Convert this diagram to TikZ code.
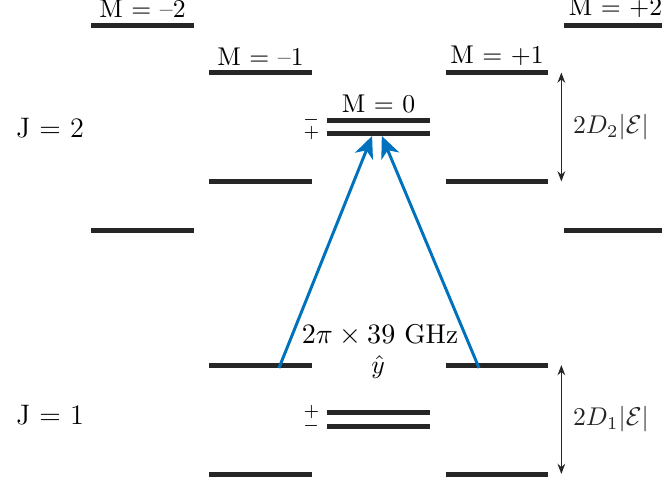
\documentclass[tikz,border=0pt]{standalone}
\usepackage{amsmath}
\usepackage{amssymb}
\usepackage{tikz}
\usetikzlibrary{positioning}
\usetikzlibrary{arrows.meta}
\definecolor{pumpblue}{RGB}{0,114,189}
\tikzset{
level_line/.style={rectangle, fill=black!85, inner sep=0, minimum width=39.8pt, minimum height=1.95pt},
m_label/.style={rectangle, inner sep=1.5pt, text=black},
parity_label/.style={rectangle, inner sep=0.3pt, font=\scriptsize},
j_label/.style={rectangle, font=\fontsize{11}{13}\selectfont},
pump_arrow/.style={-{Stealth[length=8.5pt, width=7.5pt, inset=2.5pt]}, line width=1.15pt, color=pumpblue},
split_arrow/.style={{Stealth[length=4pt, width=3pt]}-{Stealth[length=4pt, width=3pt]}, line width=0.5pt, color=black!85}
}
\begin{document}
\begin{tikzpicture}[x=0.39pt, y=-0.39pt]
    \clip (0,0) rectangle (662,482);
    % J = 2 manifold
    \node[j_label] (j2_label) at (50,128) {J = 2};
    \node[level_line] (j2_n2_a) at (142.5,25) {};
    \node[level_line] (j2_n2_b) at (142.5,230) {};
    \node[level_line] (j2_n1_a) at (260.5,72.5) {};
    \node[level_line] (j2_n1_b) at (260.5,181.5) {};
    \node[level_line] (j2_0_a) at (378.5,120) {};
    \node[level_line] (j2_0_b) at (378.5,133) {};
    \node[level_line] (j2_p1_a) at (497,72.5) {};
    \node[level_line] (j2_p1_b) at (497,181.5) {};
    \node[level_line] (j2_p2_a) at (615.5,25) {};
    \node[level_line] (j2_p2_b) at (615.5,230) {};
    \node[m_label] (m_n2) [above=0 of j2_n2_a] {M = --2};
    \node[m_label] (m_n1) [above=0 of j2_n1_a] {M = --1};
    \node[m_label] (m_0) [above=0 of j2_0_a] {M = 0};
    \node[m_label] (m_p1) [above=0 of j2_p1_a] {M = +1};
    \node[m_label] (m_p2) [above=0 of j2_p2_a] {M = +2};
    \node[parity_label] (par_2a) [left=2.5pt of j2_0_a] {$-$};
    \node[parity_label] (par_2b) [left=2.5pt of j2_0_b] {$+$};
    % J = 1 manifold
    \node[j_label] (j1_label) at (50,415) {J = 1};
    \node[level_line] (j1_n1_a) at (260.5,365) {};
    \node[level_line] (j1_n1_b) at (260.5,474) {};
    \node[level_line] (j1_0_a) at (378.5,412) {};
    \node[level_line] (j1_0_b) at (378.5,426) {};
    \node[level_line] (j1_p1_a) at (497,365) {};
    \node[level_line] (j1_p1_b) at (497,474) {};
    \node[parity_label] (par_1a) [left=2.5pt of j1_0_a] {$+$};
    \node[parity_label] (par_1b) [left=2.5pt of j1_0_b] {$-$};
    % Stark splittings
    \draw[split_arrow] ([xshift=5pt]j2_p1_a.east) -- ([xshift=5pt]j2_p1_b.east) node[midway, right=1pt] {$2D_2|\mathcal{E}|$};
    \draw[split_arrow] ([xshift=5pt]j1_p1_a.east) -- ([xshift=5pt]j1_p1_b.east) node[midway, right=1pt] {$2D_1|\mathcal{E}|$};
    % microwave transitions
    \node[font=\fontsize{10.6}{12}\selectfont] (freq_label) at (380,335) {$2\pi \times 39$ GHz};
    \node (pol_label) at (378,367) {$\hat{y}$};
    \draw[pump_arrow] ([xshift=7.2pt]j1_n1_a.south) -- ([xshift=-2.5pt]j2_0_b.south);
    \draw[pump_arrow] ([xshift=-7pt]j1_p1_a.south) -- ([xshift=1.3pt]j2_0_b.south);
\end{tikzpicture}
\end{document}
